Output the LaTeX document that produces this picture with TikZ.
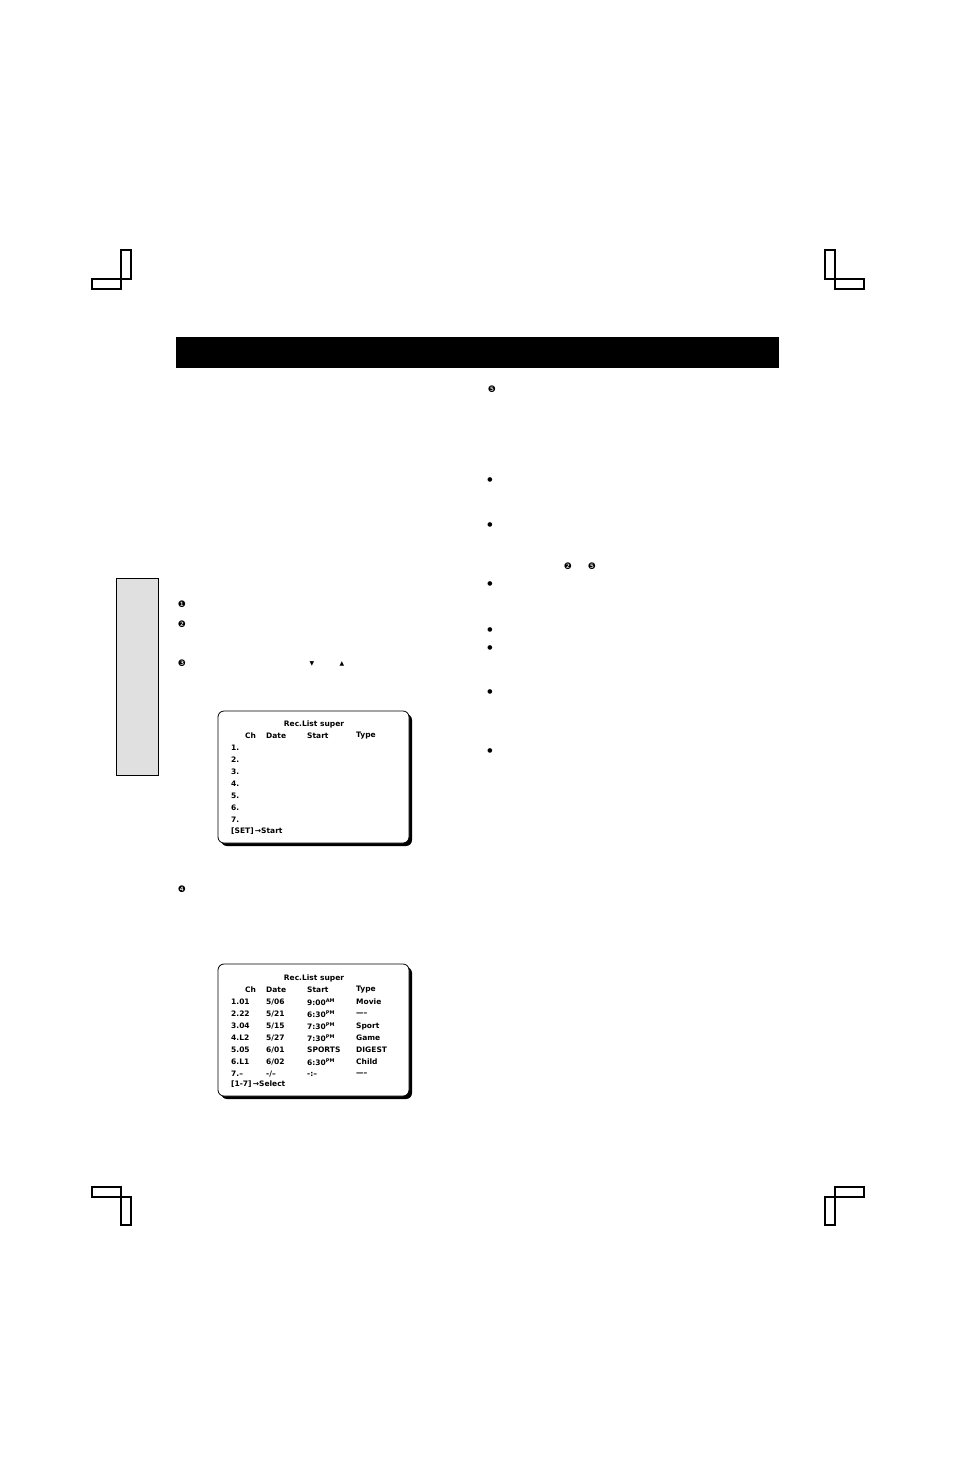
\documentclass[tikz,border=0pt]{standalone}
\usepackage{fontspec}
\setmainfont{DejaVu Sans}
\begin{document}
\begin{tikzpicture}[x=1pt,y=-1pt,
  mk/.style={draw=black,line width=1.2pt},
  scr/.style={font=\bfseries\fontsize{7.5}{8}\selectfont,anchor=west,inner sep=0pt},
  sym/.style={font=\fontsize{9}{10}\selectfont,inner sep=0pt},
  ap/.style={font=\fontsize{4}{4}\selectfont}]
\useasboundingbox (0,0) rectangle (954,1469);
% corner marks
\draw[mk] (121,250) rectangle (131,279); \draw[mk] (92,279) rectangle (121,289);
\draw[mk] (825,250) rectangle (835,279); \draw[mk] (835,279) rectangle (864,289);
\draw[mk] (92,1187) rectangle (121,1197); \draw[mk] (121,1197) rectangle (131,1225);
\draw[mk] (835,1187) rectangle (864,1197); \draw[mk] (825,1197) rectangle (835,1225);
% header bar
\fill[black] (176,337) rectangle (779,368);
% side tab
\draw[fill=black!12,line width=0.8pt] (158,578) -- (116,578) -- (116,775) -- (158,775) -- cycle;
% screens
\foreach \y in {711,964}{
  \fill[black,rounded corners=6pt] (221,\y+3) rectangle (412,\y+135);
  \draw[fill=white,line width=0.8pt,rounded corners=6pt] (218,\y) rectangle (409,\y+132);
}
% screen 1
\node[scr,anchor=center] (t1) at (314,724) {Rec.List super};
\node[scr] (h1a) at (245,736) {Ch}; \node[scr] (h1b) at (266,736) {Date};
\node[scr] (h1c) at (307,736) {Start}; \node[scr] (h1d) at (356,736) {Type};
\foreach \i in {1,...,7}{ \node[scr] (r1\i) at (231,736+12*\i) {\i.}; }
\node[scr] (f1) at (231,831) {[SET]\,→Start};
% screen 2
\node[scr,anchor=center] (t2) at (314,978) {Rec.List super};
\node[scr] (h2a) at (245,990) {Ch}; \node[scr] (h2b) at (266,990) {Date};
\node[scr] (h2c) at (307,990) {Start}; \node[scr] (h2d) at (356,990) {Type};
\foreach \i/\a/\b/\c/\d [count=\k] in {
 1.01/5/06/{9:00\textsuperscript{\tiny AM}}/Movie,
 2.22/5/21/{6:30\textsuperscript{\tiny PM}}/-----,
 3.04/5/15/{7:30\textsuperscript{\tiny PM}}/Sport,
 4.L2/5/27/{7:30\textsuperscript{\tiny PM}}/Game,
 5.05/6/01/SPORTS/DIGEST,
 6.L1/6/02/{6:30\textsuperscript{\tiny PM}}/Child,
 7.--/-/--/-:--/-----}{
  \node[scr] (a\k) at (231,990+12*\k) {\i};
  \node[scr] (b\k) at (266,990+12*\k) {\a/\b};
  \node[scr] (c\k) at (307,990+12*\k) {\c};
  \node[scr] (d\k) at (356,990+12*\k) {\d};
}
\node[scr] (f2) at (231,1084) {[1-7]\,→Select};
% symbols
\node[sym] (n1) at (182,604) {❶};
\node[sym] (n2) at (182,624) {❷};
\node[sym] (n3) at (182,663) {❸};
\node[sym,font=\fontsize{6}{6}\selectfont] (dn) at (312,664) {▼};
\node[sym,font=\fontsize{6}{6}\selectfont] (up) at (342,664) {▲};
\node[sym] (n4) at (182,889) {❹};
\node[sym] (n5) at (492,389) {❺};
\node[sym] (n2b) at (568,566) {❷};
\node[sym] (n5b) at (592,566) {❺};
\foreach \y [count=\k] in {480,525,584,630,648,692,751}{
  \node[sym,font=\fontsize{6}{6}\selectfont] (bl\k) at (490,\y) {●};
}
\end{tikzpicture}
\end{document}
